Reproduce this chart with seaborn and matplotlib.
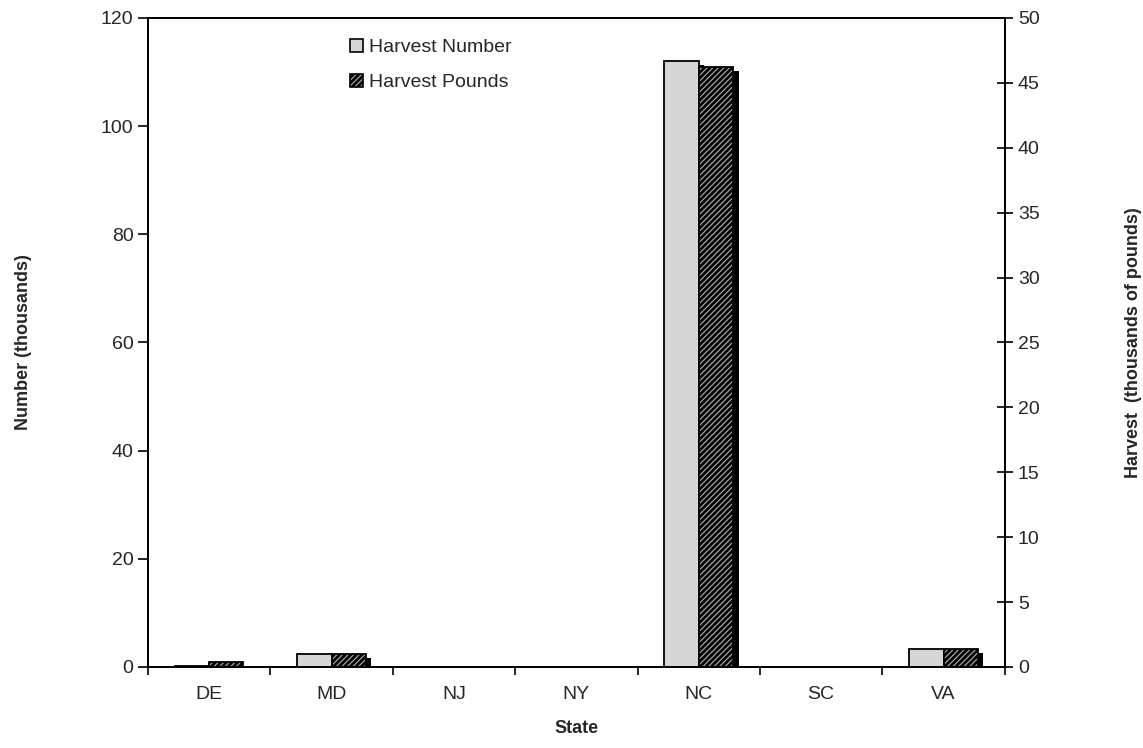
import numpy as np
import pandas as pd
import matplotlib
matplotlib.use('Agg')
import matplotlib.pyplot as plt
import matplotlib.patheffects as pe
from matplotlib.patches import Patch
from matplotlib.ticker import MultipleLocator, FixedLocator
import seaborn as sns

states = ['DE', 'MD', 'NJ', 'NY', 'NC', 'SC', 'VA']
harvest_number = [0.2, 2.4, 0, 0, 112.0, 0, 3.3]      # thousands of fish
harvest_pounds = [0.4, 1.0, 0, 0, 46.2, 0, 1.4]       # thousands of pounds
series_names = ['Harvest Number', 'Harvest Pounds']

sns.set_theme(style='ticks')
plt.rcParams['font.family'] = ['Liberation Sans', 'DejaVu Sans']
plt.rcParams['hatch.linewidth'] = 2.0

df = pd.DataFrame({
    'State': states * 2,
    'Series': [series_names[0]] * len(states) + [series_names[1]] * len(states),
    'value': harvest_number + harvest_pounds,
})
df['value'] = df['value'].replace(0, np.nan)

# one series per axis: the other one is blanked so dodge positions stay put
df_num = df.copy()
df_num.loc[df_num['Series'] == series_names[1], 'value'] = np.nan
df_lbs = df.copy()
df_lbs.loc[df_lbs['Series'] == series_names[0], 'value'] = np.nan

fig = plt.figure(figsize=(11.43, 7.48), dpi=100)
ax1 = fig.add_axes([0.1295, 0.1083, 0.7495, 0.8677])
ax2 = ax1.twinx()

pal = {series_names[0]: '#d6d6d6', series_names[1]: '#b0b0b0'}
shadow = [pe.SimplePatchShadow(offset=(4, -3), shadow_rgbFace='black', alpha=1.0), pe.Normal()]

sns.barplot(data=df_num, x='State', y='value', hue='Series', hue_order=series_names,
            order=states, palette=pal, width=0.56, dodge=True, errorbar=None,
            edgecolor='black', linewidth=1.3, legend=False, ax=ax1)
sns.barplot(data=df_lbs, x='State', y='value', hue='Series', hue_order=series_names,
            order=states, palette=pal, width=0.56, dodge=True, errorbar=None,
            edgecolor='black', linewidth=1.3, legend=False, ax=ax2)

for p in ax1.patches:
    p.set_path_effects(shadow)
for p in ax2.patches:
    p.set_hatch('//////')
    p.set_path_effects(shadow)

ax1.set_xlim(-0.5, len(states) - 0.5)
ax1.set_ylim(0, 120)
ax2.set_ylim(0, 50)
ax1.yaxis.set_major_locator(MultipleLocator(20))
ax2.yaxis.set_major_locator(MultipleLocator(5))

# category boundary ticks on x
ax1.xaxis.set_minor_locator(FixedLocator(np.arange(-0.5, len(states), 1.0)))
ax1.tick_params(axis='x', which='major', length=0, labelsize=14, pad=14)
ax1.tick_params(axis='x', which='minor', length=6, width=1.2, direction='out', color='black')
ax1.tick_params(axis='y', length=7, width=1.2, direction='out', labelsize=14, color='black')
ax2.tick_params(axis='y', length=12, width=1.2, direction='inout', labelsize=14, color='black')

for ax in (ax1, ax2):
    for s in ax.spines.values():
        s.set_color('black')
        s.set_linewidth(1.3)

ax1.set_xlabel('State', fontsize=13, fontweight='bold', labelpad=12)
ax1.set_ylabel('Number (thousands)', fontsize=13, fontweight='bold')
ax1.yaxis.set_label_coords(-0.135, 0.5)
ax2.set_ylabel('Harvest  (thousands of pounds)', fontsize=13, fontweight='bold')
ax2.yaxis.set_label_coords(1.14, 0.5)

handles = [
    Patch(facecolor=pal[series_names[0]], edgecolor='black', linewidth=1.2),
    Patch(facecolor=pal[series_names[1]], edgecolor='black', linewidth=1.2, hatch='//////'),
]
ax2.legend(handles, series_names, loc='upper left', bbox_to_anchor=(0.215, 0.995),
           frameon=False, fontsize=14, handlelength=0.7, handleheight=0.7,
           handletextpad=0.3, labelspacing=0.9)

fig.savefig('out.png', dpi=100)
plt.close(fig)
